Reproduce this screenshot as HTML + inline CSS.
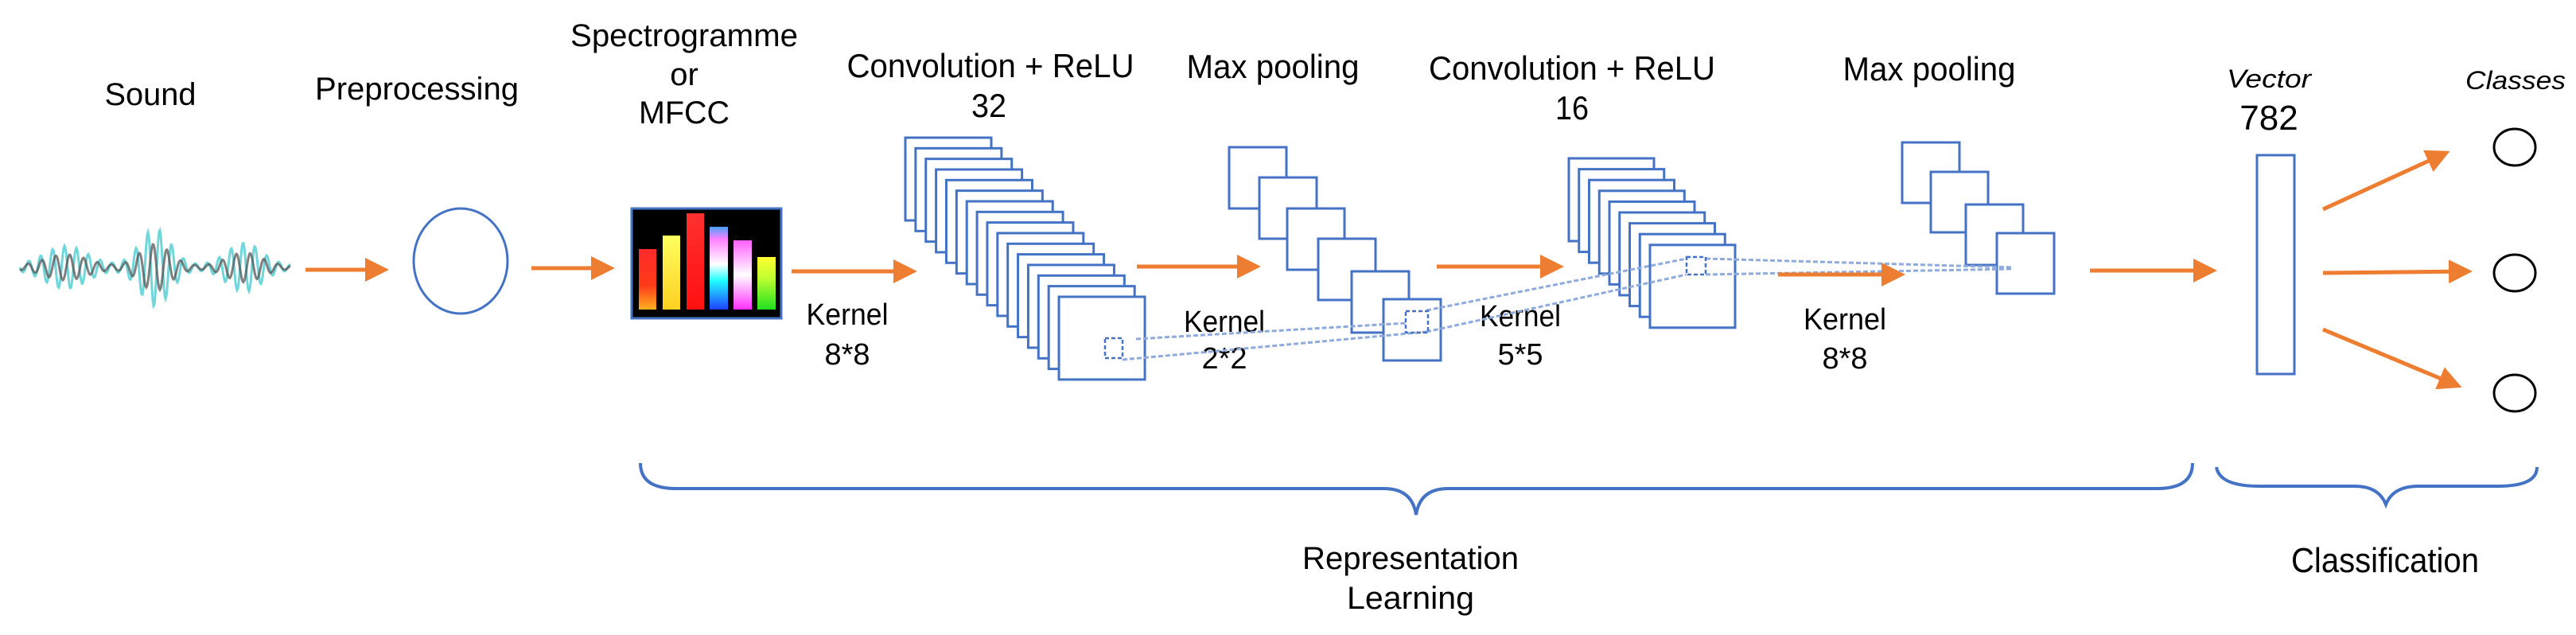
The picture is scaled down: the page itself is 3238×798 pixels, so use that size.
<!DOCTYPE html>
<html><head><meta charset="utf-8"><style>
html,body{margin:0;padding:0;background:#fff;}
svg{display:block;}
text{font-family:"Liberation Sans",Arial,sans-serif;fill:#000;}
</style></head><body>
<svg id="s" width="3238" height="798" viewBox="0 0 3238 798" xmlns="http://www.w3.org/2000/svg">
<defs>
<marker id="ah" markerWidth="6" markerHeight="6" refX="5" refY="3" orient="auto" markerUnits="strokeWidth">
<path d="M0,0 L6,3 L0,6 z" fill="#ED7D31"/></marker>
</defs>
<g id="wave"></g>
<text x="189" y="132" font-size="40" text-anchor="middle" textLength="115" lengthAdjust="spacingAndGlyphs">Sound</text>
<text x="524" y="125" font-size="40" text-anchor="middle" textLength="256" lengthAdjust="spacingAndGlyphs">Preprocessing</text>
<text x="860" y="58" font-size="40" text-anchor="middle" textLength="286" lengthAdjust="spacingAndGlyphs">Spectrogramme</text>
<text x="860" y="107" font-size="40" text-anchor="middle">or</text>
<text x="860" y="155" font-size="40" text-anchor="middle" textLength="114" lengthAdjust="spacingAndGlyphs">MFCC</text>
<text x="1245" y="97" font-size="42" text-anchor="middle" textLength="361" lengthAdjust="spacingAndGlyphs">Convolution + ReLU</text>
<text x="1243" y="147" font-size="42" text-anchor="middle" textLength="44" lengthAdjust="spacingAndGlyphs">32</text>
<text x="1600" y="98" font-size="42" text-anchor="middle" textLength="217" lengthAdjust="spacingAndGlyphs">Max pooling</text>
<text x="1976" y="100" font-size="42" text-anchor="middle" textLength="360" lengthAdjust="spacingAndGlyphs">Convolution + ReLU</text>
<text x="1976" y="150" font-size="42" text-anchor="middle" textLength="42" lengthAdjust="spacingAndGlyphs">16</text>
<text x="2425" y="101" font-size="42" text-anchor="middle" textLength="217" lengthAdjust="spacingAndGlyphs">Max pooling</text>
<text x="1065" y="408" font-size="38" text-anchor="middle" textLength="103" lengthAdjust="spacingAndGlyphs">Kernel</text>
<text x="1065" y="458" font-size="38" text-anchor="middle">8*8</text>
<text x="1539" y="417" font-size="38" text-anchor="middle" textLength="102" lengthAdjust="spacingAndGlyphs">Kernel</text>
<text x="1539" y="463" font-size="38" text-anchor="middle">2*2</text>
<text x="1911" y="410" font-size="38" text-anchor="middle" textLength="102" lengthAdjust="spacingAndGlyphs">Kernel</text>
<text x="1911" y="458" font-size="38" text-anchor="middle">5*5</text>
<text x="2319" y="414" font-size="38" text-anchor="middle" textLength="104" lengthAdjust="spacingAndGlyphs">Kernel</text>
<text x="2319" y="463" font-size="38" text-anchor="middle">8*8</text>
<text x="2852" y="110" font-size="32" font-style="italic" text-anchor="middle" textLength="106" lengthAdjust="spacingAndGlyphs">Vector</text>
<text x="2852" y="163" font-size="44" text-anchor="middle">782</text>
<text x="3162" y="112" font-size="32" font-style="italic" text-anchor="middle" textLength="126" lengthAdjust="spacingAndGlyphs">Classes</text>
<text x="1773" y="715" font-size="40" text-anchor="middle" textLength="272" lengthAdjust="spacingAndGlyphs">Representation</text>
<text x="1773" y="765" font-size="40" text-anchor="middle" textLength="160" lengthAdjust="spacingAndGlyphs">Learning</text>
<text x="2998" y="719" font-size="44" text-anchor="middle" textLength="236" lengthAdjust="spacingAndGlyphs">Classification</text>

<ellipse cx="579" cy="328" rx="59" ry="66" fill="none" stroke="#4472C4" stroke-width="3"/>
<rect x="794" y="262" width="188" height="138" fill="#000" stroke="#4472C4" stroke-width="3"/>
<defs>
<linearGradient id="g1" x1="0" y1="0" x2="0" y2="1"><stop offset="0" stop-color="#ff2a2a"/><stop offset="0.6" stop-color="#ff3a1a"/><stop offset="1" stop-color="#ffb020"/></linearGradient>
<linearGradient id="g2" x1="0" y1="0" x2="0" y2="1"><stop offset="0" stop-color="#ffff60"/><stop offset="1" stop-color="#ffd020"/></linearGradient>
<linearGradient id="g3" x1="0" y1="0" x2="0" y2="1"><stop offset="0" stop-color="#ff3030"/><stop offset="1" stop-color="#ff1010"/></linearGradient>
<linearGradient id="g4" x1="0" y1="0" x2="0" y2="1"><stop offset="0" stop-color="#4aa0ff"/><stop offset="0.15" stop-color="#ff80ff"/><stop offset="0.45" stop-color="#ffffff"/><stop offset="0.65" stop-color="#20ffff"/><stop offset="1" stop-color="#2040ff"/></linearGradient>
<linearGradient id="g5" x1="0" y1="0" x2="0" y2="1"><stop offset="0" stop-color="#ff60ff"/><stop offset="0.5" stop-color="#ffffff"/><stop offset="1" stop-color="#ff30ff"/></linearGradient>
<linearGradient id="g6" x1="0" y1="0" x2="0" y2="1"><stop offset="0" stop-color="#ffff30"/><stop offset="0.4" stop-color="#c0ff30"/><stop offset="1" stop-color="#20e020"/></linearGradient>
</defs>
<rect x="803" y="313" width="22" height="76" fill="url(#g1)"/>
<rect x="833" y="296" width="22" height="93" fill="url(#g2)"/>
<rect x="863" y="268" width="22" height="121" fill="url(#g3)"/>
<rect x="892" y="285" width="23" height="104" fill="url(#g4)"/>
<rect x="922" y="302" width="23" height="87" fill="url(#g5)"/>
<rect x="952" y="323" width="23" height="66" fill="url(#g6)"/>

<g id="stacks" fill="#fff" stroke="#4472C4" stroke-width="3"></g>

<g fill="none" stroke="#8FAADC" stroke-width="3" stroke-dasharray="6,3">
<line x1="1428" y1="426" x2="1768" y2="406"/>
<line x1="1411" y1="452" x2="1793" y2="417"/>
<line x1="1793" y1="390" x2="2120" y2="325"/>
<line x1="1793" y1="417" x2="2120" y2="345"/>
<line x1="2144" y1="325" x2="2531" y2="336"/>
<line x1="2144" y1="345" x2="2531" y2="338"/>
</g>
<g fill="none" stroke="#4472C4" stroke-width="2.5" stroke-dasharray="5,3">
<rect x="1389" y="425" width="22" height="25"/>
<rect x="1767" y="391" width="28" height="27"/>
<rect x="2120" y="323" width="24" height="22"/>
</g>

<rect x="2837" y="195" width="47" height="275" fill="none" stroke="#4472C4" stroke-width="3"/>
<g fill="none" stroke="#000" stroke-width="3">
<ellipse cx="3161" cy="185" rx="26" ry="23"/>
<ellipse cx="3161" cy="343" rx="26" ry="23"/>
<ellipse cx="3161" cy="494" rx="26" ry="23"/>
</g>
<g stroke="#ED7D31" stroke-width="5" fill="none" marker-end="url(#ah)">
<line x1="384" y1="339" x2="484" y2="339"/>
<line x1="668" y1="337" x2="768" y2="337"/>
<line x1="995" y1="341" x2="1148" y2="341"/>
<line x1="1429" y1="335" x2="1580" y2="335"/>
<line x1="1806" y1="335" x2="1961" y2="335"/>
<line x1="2235" y1="345" x2="2390" y2="345"/>
<line x1="2627" y1="340" x2="2782" y2="340"/>
<line x1="2920" y1="263" x2="3075" y2="192"/>
<line x1="2920" y1="343" x2="3103" y2="341"/>
<line x1="2920" y1="414" x2="3090" y2="485"/>
</g>
<g fill="none" stroke="#4472C4" stroke-width="4">
<path d="M805,582 Q805,614 850,614 L1740,614 Q1775,614 1780,647 Q1785,614 1820,614 L2711,614 Q2756,614 2756,582"/>
<path d="M2786,587 Q2790,611 2840,611 L2960,611 Q2990,611 2999,634 Q3008,611 3040,611 L3140,611 Q3189,611 3189,587"/>
</g>
</svg>
<script>
var NS="http://www.w3.org/2000/svg";
var st=document.getElementById('stacks');
function r(x,y,w,h){var e=document.createElementNS(NS,'rect');e.setAttribute('x',x);e.setAttribute('y',y);e.setAttribute('width',w);e.setAttribute('height',h);st.appendChild(e);}
var i;
for(i=0;i<16;i++){r(1138+i*12.87,173+i*13.33,108,104);}
var p=[[1545,185],[1583,223],[1618,262],[1657,300],[1699,341],[1739,376]];
p.forEach(function(a){r(a[0],a[1],72,77);});
for(i=0;i<9;i++){r(1972+i*12.75,199+i*13.6,107,104);}
var q=[[2391,179],[2427,216],[2471,257],[2510,293]];
q.forEach(function(a){r(a[0],a[1],72,76);});
var w=document.getElementById('wave');
function env(x){var t=(x-25)/340;var a=3;
 a+=24*Math.exp(-Math.pow((t-0.17)/0.11,2));
 a+=46*Math.exp(-Math.pow((t-0.5)/0.08,2));
 a+=28*Math.exp(-Math.pow((t-0.83)/0.09,2));return a;}
function path(f,sc,ph){var d='';for(var x=25;x<=365;x+=1){var y=336+sc*env(x)*Math.sin((x-25)*f+ph);d+=(x==25?'M':'L')+x+','+y.toFixed(1);}return d;}
var a=document.createElementNS(NS,'path');a.setAttribute('d',path(0.42,1,0));a.setAttribute('stroke','#6fd6da');a.setAttribute('stroke-width','3');a.setAttribute('fill','none');w.appendChild(a);
var b=document.createElementNS(NS,'path');b.setAttribute('d',path(0.36,0.6,1));b.setAttribute('stroke','#555');b.setAttribute('stroke-width','3');b.setAttribute('fill','none');b.setAttribute('opacity','0.75');w.appendChild(b);
</script>
</body></html>
